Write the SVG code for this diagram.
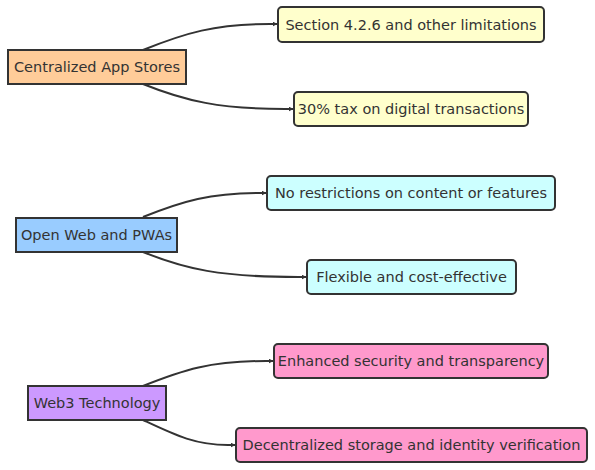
<svg xmlns="http://www.w3.org/2000/svg" width="595" height="470" viewBox="0 0 595 470">
<style>
.n rect{stroke:#333;stroke-width:2}
.t{font-family:"DejaVu Sans","Liberation Sans",Arial,sans-serif;font-size:14.5px;fill:#333;text-anchor:middle;dominant-baseline:central}
.e{fill:none;stroke:#333;stroke-width:2}
</style>
<defs>
<marker id="ah" viewBox="0 0 10 10" refX="9" refY="5" markerWidth="5" markerHeight="5" orient="auto" markerUnits="userSpaceOnUse">
<path d="M0,0 L10,5 L0,10 z" fill="#333"/>
</marker>
</defs>
<rect width="595" height="470" fill="#fff"/>
<g id="connectors">
<path class="e" d="M143,50 C185,33 215,24 270,24 L277,24" marker-end="url(#ah)"/>
<path class="e" d="M143,84 C185,101 220,109 285,109 L293,109" marker-end="url(#ah)"/>
<path class="e" d="M143,217 C183,201 210,193 260,193 L266,193" marker-end="url(#ah)"/>
<path class="e" d="M143,252 C185,269 220,277 298,277 L306,277" marker-end="url(#ah)"/>
<path class="e" d="M143,386 C183,370 210,361 266,361 L273,361" marker-end="url(#ah)"/>
<path class="e" d="M143,420 C175,435 195,445 228,445 L235,445" marker-end="url(#ah)"/>
</g>
<g id="centralized" class="n"><rect x="8" y="50" width="178" height="34" fill="#ffcc99"/><text class="t" x="97" y="67">Centralized App Stores</text></g>
<g id="section426" class="n"><rect x="278" y="7" width="266" height="35" rx="4" fill="#ffffcc"/><text class="t" x="411" y="24.5">Section 4.2.6 and other limitations</text></g>
<g id="tax30" class="n"><rect x="294" y="92" width="234" height="34" rx="4" fill="#ffffcc"/><text class="t" x="411" y="109">30% tax on digital transactions</text></g>
<g id="openweb" class="n"><rect x="16" y="218" width="161" height="34" fill="#99ccff"/><text class="t" x="96.5" y="235">Open Web and PWAs</text></g>
<g id="norestrict" class="n"><rect x="267" y="176" width="288" height="34" rx="4" fill="#ccffff"/><text class="t" x="411" y="193">No restrictions on content or features</text></g>
<g id="flexible" class="n"><rect x="307" y="260" width="209" height="34" rx="4" fill="#ccffff"/><text class="t" x="411.5" y="277">Flexible and cost-effective</text></g>
<g id="web3" class="n"><rect x="28" y="386" width="138" height="34" fill="#cc99ff"/><text class="t" x="97" y="403">Web3 Technology</text></g>
<g id="security" class="n"><rect x="274" y="344" width="274" height="34" rx="4" fill="#ff99cc"/><text class="t" x="411" y="361">Enhanced security and transparency</text></g>
<g id="decentral" class="n"><rect x="236" y="428" width="351" height="34" rx="4" fill="#ff99cc"/><text class="t" x="411.5" y="445">Decentralized storage and identity verification</text></g>
</svg>
